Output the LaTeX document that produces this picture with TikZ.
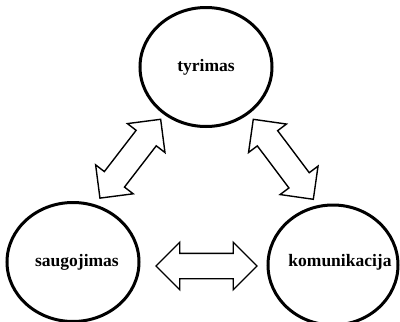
\documentclass[tikz,border=0pt]{standalone}
\usepackage{fontspec}
\setmainfont{Liberation Serif}
\usetikzlibrary{shapes.geometric,shapes.arrows}
\begin{document}
\begin{tikzpicture}[x=1pt,y=-1pt,
  bubble/.style={draw=black, line width=3pt, ellipse, inner sep=0pt,
    font=\fontsize{17.5}{20}\selectfont\bfseries},
  label/.style={font=\fontsize{17.5}{20}\selectfont\bfseries},
  link/.style={draw=black, line width=1.4pt, fill=white, double arrow,
    inner xsep=0pt, inner ysep=12pt,
    minimum height=101pt, double arrow head extend=11pt,
    double arrow tip angle=90}]
\useasboundingbox (0,0) rectangle (400,322);
\node[bubble, minimum width=132pt, minimum height=119pt] (t) at (206,67) {tyrimas};
\node[bubble, minimum width=132pt, minimum height=119pt] (s) at (73,262) {};
\node[label] (sl) at (77,262) {saugojimas};
\node[bubble, minimum width=130pt, minimum height=120pt] (k) at (333,265) {};
\node[label] (kl) at (340,262) {komunikacija};
\node[link] (a1) at (206.5,266) {};
\node[link, rotate=52.4, minimum height=99.5pt] (a2) at (130.3,158.7) {};
\node[link, rotate=-53.1, minimum height=100pt] (a3) at (283.3,159.3) {};
\end{tikzpicture}
\end{document}
